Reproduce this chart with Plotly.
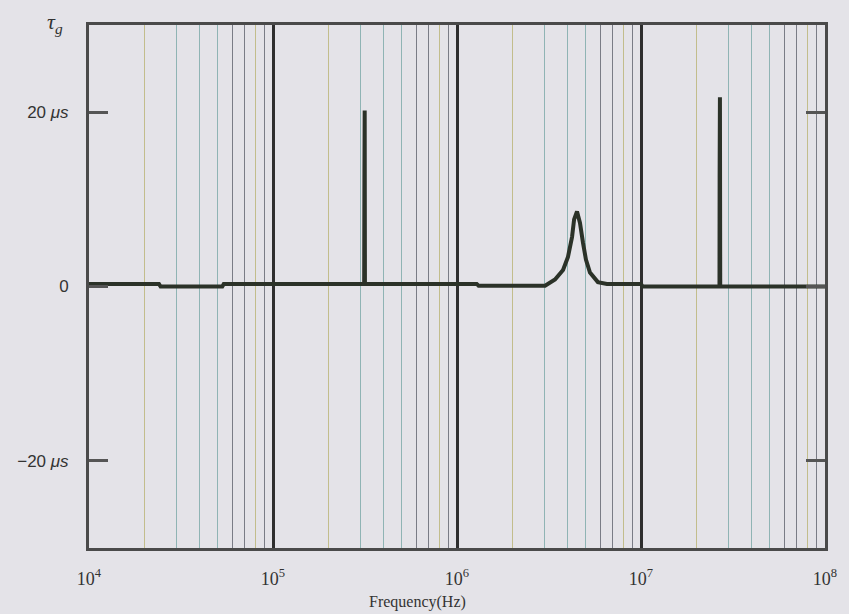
import plotly.graph_objects as go

# Group delay of the filter versus frequency (seconds expressed in microseconds)
freq_hz = [
    1.0e4, 2.40e4, 2.45e4, 5.30e4, 5.40e4,
    3.13e5, 3.14e5, 3.15e5, 3.16e5,
    1.28e6, 1.31e6,
    3.01e6, 3.41e6, 3.77e6, 4.01e6, 4.22e6, 4.33e6, 4.49e6,
    4.66e6, 4.84e6, 5.02e6, 5.28e6, 5.83e6, 6.53e6,
    1.00e7, 1.02e7,
    2.670e7, 2.675e7, 2.685e7, 2.695e7,
    1.0e8,
]
tau_us = [
    0.3, 0.3, 0.0, 0.0, 0.3,
    0.3, 13.0, 20.2, 0.3,
    0.3, 0.1,
    0.1, 0.8, 1.9, 3.4, 5.7, 7.7, 8.6,
    7.3, 5.0, 3.1, 1.6, 0.5, 0.3,
    0.3, 0.0,
    0.0, 12.5, 21.7, 0.0,
    0.0,
]

decades = [1e4, 1e5, 1e6, 1e7, 1e8]
decade_labels = ["10<sup>4</sup>", "10<sup>5</sup>", "10<sup>6</sup>", "10<sup>7</sup>", "10<sup>8</sup>"]
y_ticks = [-20, 0, 20]
y_labels = ["\u221220 <i>\u03bcs</i>", "0", "20 <i>\u03bcs</i>"]

# minor gridlines, split into colour groups by multiplier within each decade
minor_groups = {
    "#c2bd8c": [2, 8],
    "#8fb4b4": [3, 4, 5],
    "#7a7c86": [6, 7, 9],
}

bg = "#e4e3e8"
ink = "#2b3228"

fig = go.Figure()
fig.add_trace(go.Scatter(x=freq_hz, y=tau_us, mode="lines",
                         line=dict(color=ink, width=4), hoverinfo="skip",
                         showlegend=False))

layout_axes = {}
for i, (color, mults) in enumerate(minor_groups.items(), start=2):
    vals = [m * d for d in decades[:-1] for m in mults]
    name = f"xaxis{i}"
    layout_axes[name] = dict(
        type="log", range=[4, 8], overlaying="x", tickvals=vals,
        showticklabels=False, ticks="", showgrid=True, gridcolor=color,
        gridwidth=1, showline=False, zeroline=False,
    )
    fig.add_trace(go.Scatter(x=[], y=[], xaxis=f"x{i}", showlegend=False,
                             hoverinfo="skip"))

fig.update_layout(
    width=849, height=614,
    margin=dict(l=89, r=24, t=25, b=66),
    paper_bgcolor=bg, plot_bgcolor=bg,
    showlegend=False,
    xaxis=dict(
        type="log", range=[4, 8], tickvals=decades, ticktext=decade_labels,
        showgrid=True, gridcolor="#2e2e2e", gridwidth=2.5,
        ticks="", showline=True, mirror=True, linecolor="#4a4a4a", linewidth=3,
        zeroline=False, ticklabelstandoff=12,
        tickfont=dict(family="Liberation Serif", size=18, color="#333333"),
    ),
    yaxis=dict(
        range=[-30, 30], tickvals=y_ticks, ticktext=y_labels,
        showgrid=False, zeroline=False,
        ticks="inside", ticklen=19, tickwidth=3, tickcolor="#555555",
        showline=True, mirror="ticks", linecolor="#4a4a4a", linewidth=3,
        ticklabelstandoff=14,
        tickfont=dict(family="Liberation Sans", size=17, color="#333333"),
    ),
    **layout_axes,
)

fig.add_annotation(text="<i>\u03c4</i><sub><i>g</i></sub>", xref="paper", yref="paper",
                   x=-0.06, y=1.035, showarrow=False,
                   font=dict(family="Liberation Serif", size=22, color="#333333"))
fig.add_annotation(text="Frequency(Hz)", xref="paper", yref="paper",
                   x=0.447, y=-0.104, yanchor="middle", showarrow=False,
                   font=dict(family="Liberation Serif", size=16, color="#333333"))

fig.write_html("out.html")
